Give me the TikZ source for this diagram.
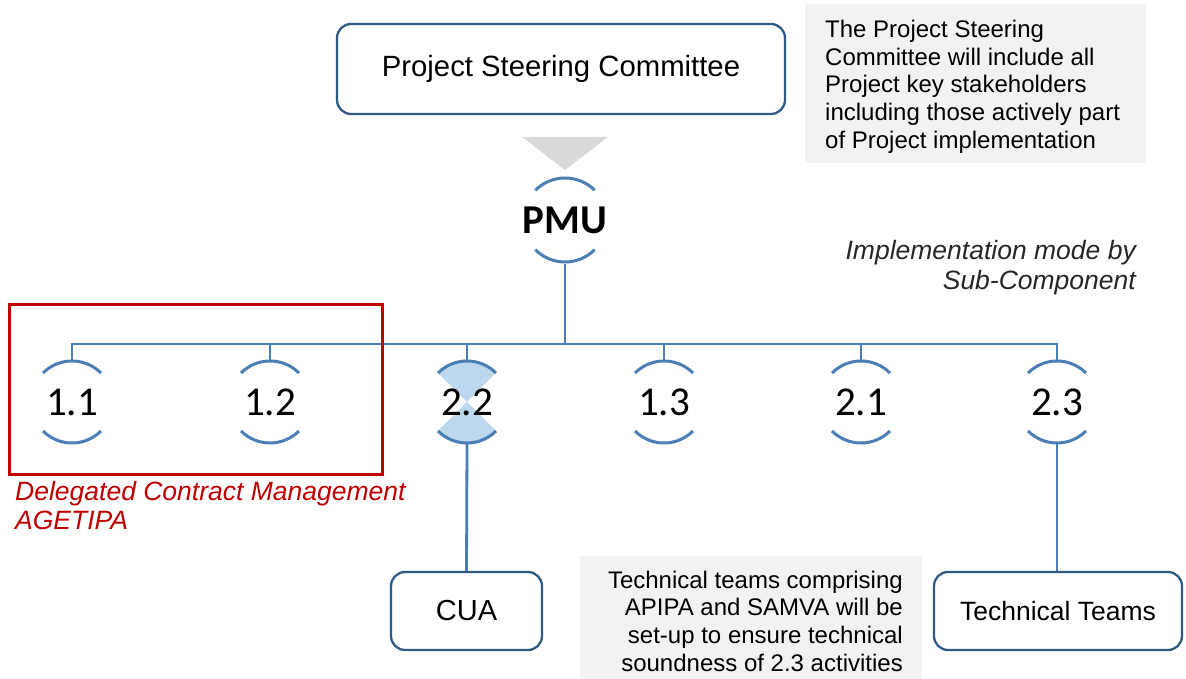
\documentclass[tikz,border=0pt]{standalone}
\usepackage{fontspec}
\setmainfont{Liberation Sans}
\newfontfamily\calib{Carlito}
\definecolor{boxblue}{HTML}{2F5A86}
\definecolor{lineblue}{HTML}{4A7EB4}
\definecolor{notegray}{HTML}{F2F2F2}
\definecolor{trigray}{HTML}{D9D9D9}
\definecolor{fillblue}{HTML}{BDD7EE}
\definecolor{darkred}{HTML}{C00000}
\tikzset{
  x=1pt, y=1pt,
  orgbox/.style={draw=boxblue, line width=2.3pt, rounded corners=14pt, fill=white},
  link/.style={draw=lineblue, line width=2.8pt},
  ring/.style={circle, inner sep=0pt, minimum size=82pt},
  ringarc/.style={draw=lineblue, line width=3pt},
  note/.style={fill=notegray, draw=none},
}
\newcommand{\ringarcs}[2]{%
  \draw[ringarc] ([shift={(45:#2)}]#1.center) arc (45:135:#2);
  \draw[ringarc] ([shift={(225:#2)}]#1.center) arc (225:315:#2);
}
\begin{document}
\begin{tikzpicture}
\useasboundingbox (0,0) rectangle (1186,679);

% notes
\fill[note] (805,516) rectangle (1146,675);
\node[anchor=north west, align=left, inner sep=0pt,
      font=\fontsize{24}{27.7}\selectfont] (stnote) at (825,659)
  {The Project Steering\\Committee will include all\\Project key stakeholders\\including those actively part\\of Project implementation};

\fill[note] (580,0) rectangle (922,123);
\node[anchor=north east, align=right, inner sep=0pt,
      font=\fontsize{24}{27.7}\selectfont] (ttnote) at (903,108.5)
  {Technical teams comprising\\APIPA and SAMVA will be\\set-up to ensure technical\\soundness of 2.3 activities};

% steering committee and arrow
\node[orgbox, minimum width=448pt, minimum height=90pt,
      font=\fontsize{29.3}{32}\selectfont] (psc) at (561,610) {Project Steering Committee};
\fill[trigray] (522,542) -- (608,542) -- (565,509) -- cycle;

% PMU
\node[ring, minimum size=84pt, font=\calib\bfseries\fontsize{41}{43}\selectfont] (pmu) at (565,459) {PMU};
\ringarcs{pmu}{42}

% sub-components
\coordinate (bus) at (0,335);
\foreach \nm/\xx in {c11/72, c12/270, c22/467, c13/664, c21/861, c23/1057}{
  \node[ring] (\nm) at (\xx,277) {};
}
\fill[fillblue] (c22.center) -- ++(45:41) arc (45:135:41) -- cycle;
\fill[fillblue] (c22.center) -- ++(225:41) arc (225:315:41) -- cycle;
\foreach \nm/\lbl in {c11/1.1, c12/1.2, c22/2.2, c13/1.3, c21/2.1, c23/2.3}{
  \node[font=\calib\fontsize{41}{43}\selectfont, inner sep=0pt] at (\nm.center) {\lbl};
  \ringarcs{\nm}{41}
  \draw[link] (\nm.north) -- (\nm.north |- bus);
}
\draw[link] (pmu.south) -- (pmu.south |- bus);
\draw[link, line cap=rect] (c11.north |- bus) -- (c23.north |- bus);

% bottom boxes
\node[orgbox, minimum width=151pt, minimum height=78pt,
      font=\fontsize{29}{32}\selectfont] (cua) at (466.5,68) {CUA};
\node[orgbox, minimum width=248pt, minimum height=78pt,
      font=\fontsize{26.5}{30}\selectfont] (tt) at (1058,68) {Technical Teams};
\draw[link] (c22.south) -- (cua.north);
\draw[link] (c23.south) -- (c23.south |- tt.north);

% delegated group
\draw[darkred, line width=3pt] (9,204) rectangle (382,374);
\node[anchor=north west, align=left, inner sep=0pt, text=darkred,
      font=\itshape\fontsize{26.5}{29.5}\selectfont] (dcm) at (15,198)
  {Delegated Contract Management\\AGETIPA};

% implementation mode caption
\node[anchor=north east, align=right, inner sep=0pt, text=black!85,
      font=\itshape\fontsize{26.5}{30}\selectfont] (imp) at (1136,439)
  {Implementation mode by\\Sub-Component};
\end{tikzpicture}
\end{document}
